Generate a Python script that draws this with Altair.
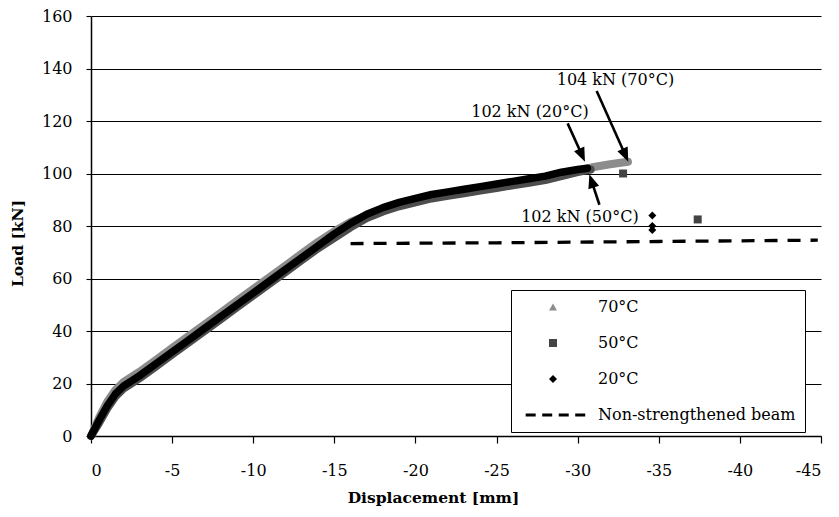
import math
import altair as alt
import pandas as pd

# ---------------- data ----------------
disp_70 = [0, -0.5, -1.0, -1.5, -2.0, -3, -4, -5, -6, -7, -8, -9, -10, -11, -12, -13, -14, -15,
           -16, -17, -18, -19, -20, -21, -22, -23, -24, -25, -26, -27, -28, -29, -30, -31, -32, -33.1]
load_70 = [0, 7, 13, 17.5, 20.5, 24.5, 29, 33.5, 38, 42.5, 47, 51.5, 56, 60.5, 65, 69.5, 74, 78,
           81.5, 84, 86.5, 88.5, 90, 91.5, 92.5, 93.5, 94.5, 95.5, 96.5, 97.5, 98.5, 99.5, 101, 102.5, 103.5, 104.5]

disp_50 = [0, -0.5, -1, -1.5, -2, -3, -4, -5, -6, -7, -8, -9, -10, -11, -12, -13, -14, -15,
           -16, -17, -18, -19, -20, -21, -22, -23, -24, -25, -26, -27, -28, -29, -30, -30.8]
load_50 = [0, 5, 10.5, 15, 18, 22, 26.5, 31, 35.5, 40, 44.5, 49, 53.5, 58, 62.5, 67, 71.5, 75.5,
           79.5, 83, 85.5, 87.5, 89, 90.5, 91.5, 92.5, 93.5, 94.5, 95.5, 96.5, 97.5, 99, 100.5, 101.5]

disp_20 = [0, -0.5, -1.0, -1.5, -2.0, -3.0, -4.0, -5.0, -6.0, -7.0, -8.0, -9.0, -10, -11, -12, -13, -14, -15,
           -16, -17, -18, -19, -20, -21, -22, -23, -24, -25, -26, -27, -28, -29, -30, -30.6]
load_20 = [0, 6, 11.5, 16, 19, 23, 27.5, 32, 36.5, 41, 45.5, 50, 54.5, 59, 63.5, 68, 72.5, 77,
           81, 84.5, 87, 89, 90.5, 92, 93, 94, 95, 96, 97, 98, 99, 100.5, 101.5, 102]

nsb_disp = [-16, -25, -35, -44.8]
nsb_load = [73.3, 73.6, 74.1, 74.6]

fail50_disp = [-32.8, -37.4]
fail50_load = [100, 82.5]
fail20_disp = [-34.6, -34.6, -34.6]
fail20_load = [84, 80, 78.5]

series_names = ["70°C", "50°C", "20°C", "Non-strengthened beam"]

ann_text = ["104 kN (70°C)", "102 kN (20°C)", "102 kN (50°C)"]
ann_text_x = [-32.33, -27.06, -30.14]
ann_text_y = [135.7, 123.5, 83.6]
arrow_x0 = [-31.17, -29.38, -31.34]
arrow_y0 = [131.4, 119.1, 88.1]
arrow_x1 = [-33.12, -30.45, -30.72]
arrow_y1 = [104.5, 104.5, 99.7]

# ---------------- layout / style ----------------
W, H = 730, 420
XMIN, XMAX, YMIN, YMAX = -45, 0, 0, 160
PX_X = W / (XMAX - XMIN)
PX_Y = H / (YMAX - YMIN)
FONT = "DejaVu Serif"
C70, C50, C20 = "#8c8c8c", "#4d4d4d", "#000000"

dash_symbol = ("M-6.83,-0.4H-4.33V0.4H-6.83Z M-2.7,-0.4H-0.2V0.4H-2.7Z "
               "M1.43,-0.4H3.93V0.4H1.43Z M5.55,-0.4H8.05V0.4H5.55Z")
head_path = "M0,0L-0.4,1L0.4,1Z"

xscale = alt.Scale(domain=[XMIN, XMAX], reverse=True, nice=False, zero=False)
yscale = alt.Scale(domain=[YMIN, YMAX], nice=False)

xaxis = alt.Axis(
    values=list(range(-45, 1, 5)), grid=False, tickSize=7, tickColor="black", tickWidth=1.2,
    domainColor="black", domainWidth=1.5, labelFont=FONT, labelFontSize=16, labelColor="black",
    labelPadding=19, labelExpr="datum.value == 0 ? '0' : '-' + abs(datum.value)",
    title="Displacement [mm]", titleFont=FONT, titleFontSize=15.5, titleFontWeight="bold",
    titleColor="black", titleX=342, titleY=61, titleBaseline="middle", titleAlign="center",
)
yaxis = alt.Axis(
    values=list(range(0, 161, 20)), grid=True, gridColor="black", gridWidth=1.1, gridOpacity=1,
    tickSize=5, tickColor="black", tickWidth=1.1, domainColor="black", domainWidth=1.5,
    labelFont=FONT, labelFontSize=16, labelColor="black", labelPadding=14,
    title="Load [kN]", titleFont=FONT, titleFontSize=15.5, titleFontWeight="bold", titleColor="black",
    titleX=-74, titleY=227, titleAngle=270, titleBaseline="middle", titleAlign="center",
)

def X(field):
    return alt.X(field, type="quantitative", scale=xscale, axis=xaxis)

def Y(field):
    return alt.Y(field, type="quantitative", scale=yscale, axis=yaxis)

# ---------------- tables ----------------
curves = pd.DataFrame({
    "d": disp_70 + disp_50 + disp_20,
    "l": load_70 + load_50 + load_20,
    "s": ["70°C"] * len(disp_70) + ["50°C"] * len(disp_50) + ["20°C"] * len(disp_20),
})
nsb = pd.DataFrame({"d": nsb_disp, "l": nsb_load})
pts = pd.DataFrame({
    "d": fail50_disp + fail20_disp,
    "l": fail50_load + fail20_load,
    "s": ["50°C"] * len(fail50_disp) + ["20°C"] * len(fail20_disp),
})

# arrows: shorten shaft a bit, compute head rotation from screen direction
rows = []
for x0, y0, x1, y1 in zip(arrow_x0, arrow_y0, arrow_x1, arrow_y1):
    dxp = (x0 - x1) * PX_X          # reversed x scale: more negative -> further right
    dyp = -(y1 - y0) * PX_Y
    ang = (math.degrees(math.atan2(dxp, -dyp)) + 360) % 360
    L = math.hypot(dxp, dyp)
    f = (L - 7) / L
    rows.append({"d": x0, "l": y0, "d2": x0 + (x1 - x0) * f, "l2": y0 + (y1 - y0) * f,
                 "hx": x1, "hy": y1, "ang": ang})
arrows = pd.DataFrame(rows)
ann = pd.DataFrame({"d": ann_text_x, "l": ann_text_y, "t": ann_text})

# ---------------- layers ----------------
def curve(name, color, width):
    return (alt.Chart(curves).transform_filter(alt.datum.s == name)
            .mark_line(color=color, strokeWidth=width, strokeCap="round", strokeJoin="round")
            .encode(x=X("d"), y=Y("l")))

l70 = curve("70°C", C70, 8)
l50 = curve("50°C", C50, 8)
l20 = curve("20°C", C20, 7.5)

dashed = alt.Chart(nsb).mark_line(color="black", strokeWidth=3.3, strokeDash=[13, 10]).encode(
    x=X("d"), y=Y("l"))

legend = alt.Legend(
    title=None, orient="none", legendX=420, legendY=274, direction="vertical",
    fillColor="white", strokeColor="black", padding=9, rowPadding=20,
    symbolOffset=25, labelOffset=37, symbolSize=64, symbolStrokeWidth=0,
    labelFont=FONT, labelFontSize=16, labelColor="black", labelLimit=400,
)
points = alt.Chart(pts).mark_point(filled=True, size=64, opacity=1).encode(
    x=X("d"), y=Y("l"),
    color=alt.Color("s:N", scale=alt.Scale(domain=series_names, range=[C70, "#444444", "#000000", "#000000"]),
                    legend=legend),
    shape=alt.Shape("s:N", scale=alt.Scale(domain=series_names,
                                           range=["triangle-up", "square", "diamond", dash_symbol]),
                    legend=legend),
)

shafts = alt.Chart(arrows).mark_rule(color="black", strokeWidth=2.6).encode(
    x=X("d"), y=Y("l"), x2="d2:Q", y2="l2:Q")
heads = alt.Chart(arrows).mark_point(shape=head_path, filled=True, size=784, color="black", opacity=1).encode(
    x=X("hx"), y=Y("hy"), angle=alt.Angle("ang:Q", scale=None))
labels = alt.Chart(ann).mark_text(font=FONT, fontSize=16, color="black", align="center",
                                  baseline="middle").encode(x=X("d"), y=Y("l"), text="t:N")

chart = alt.layer(l70, l50, l20, dashed, points, shafts, heads, labels).properties(
    width=W, height=H,
    autosize=alt.AutoSizeParams(type="none"),
    padding={"left": 83, "top": 8, "right": 10, "bottom": 75},
    background="white",
).configure_view(stroke=None)

chart.save("out.html", embed_options={"renderer": "svg", "actions": False})
